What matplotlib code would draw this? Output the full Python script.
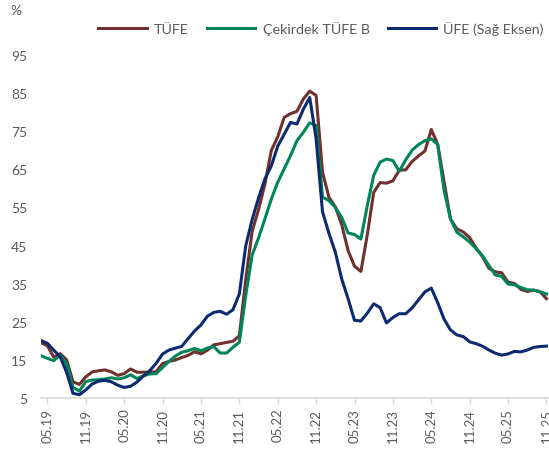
import matplotlib
matplotlib.use("Agg")
import matplotlib.pyplot as plt

# ---------------------------------------------------------------------------
# DATA  (annual % change, monthly, 04.2019 - 11.2025)
# ---------------------------------------------------------------------------

FIRST_YEAR, FIRST_MONTH = 2019, 4

TUFE = [
    19.50, 18.71, 15.72, 16.65, 15.01, 9.26, 8.55, 10.56, 11.84,
    12.15, 12.37, 11.86, 10.94, 11.39, 12.62, 11.76, 11.77, 11.75, 11.89, 14.03, 14.60,
    14.97, 15.61, 16.19, 17.14, 16.59, 17.53, 18.95, 19.25, 19.58, 19.89, 21.31, 36.08,
    48.69, 54.44, 61.14, 69.97, 73.50, 78.62, 79.60, 80.21, 83.45, 85.51, 84.39, 64.27,
    57.68, 55.18, 50.51, 43.68, 39.59, 38.21, 47.83, 58.94, 61.53, 61.36, 61.98, 64.77,
    64.86, 67.07, 68.50, 69.80, 75.45, 71.60, 61.78, 51.97, 49.38, 48.58, 47.09, 44.38,
    42.12, 39.05, 38.10, 37.86, 35.41, 35.05, 33.52, 32.95, 33.29, 32.87, 31.07,
]

CEKIRDEK_B = [
    16.1, 15.4, 14.8, 16.3, 14.0, 7.8, 6.8, 9.3, 9.7,
    9.8, 10.0, 10.3, 10.0, 10.3, 11.1, 10.1, 10.8, 11.3, 11.4, 13.0, 14.6,
    16.0, 17.0, 17.4, 18.0, 17.4, 18.1, 18.5, 16.8, 16.8, 18.3, 19.6, 31.9,
    42.5, 47.0, 52.0, 57.2, 61.6, 65.1, 68.6, 72.5, 74.7, 77.2, 76.5, 57.7,
    56.8, 55.0, 52.4, 48.3, 47.9, 46.7, 55.5, 63.4, 66.9, 67.7, 67.3, 64.5,
    67.5, 70.0, 71.5, 72.5, 73.0, 71.5, 59.5, 52.0, 48.5, 47.3, 45.9, 44.2,
    42.3, 39.8, 37.3, 36.9, 34.9, 34.7, 34.0, 33.4, 33.3, 32.9, 32.3,
]

# right axis
UFE = [
    30.12, 28.71, 25.04, 21.66, 13.45, 2.45, 1.70, 4.26, 7.36,
    8.84, 9.26, 8.50, 6.71, 5.53, 6.17, 8.33, 11.53, 14.33, 18.20, 23.11, 25.15,
    26.16, 27.09, 31.20, 35.17, 38.33, 42.89, 44.92, 45.52, 43.96, 46.31, 54.62, 79.89,
    93.53, 105.01, 114.97, 121.82, 132.16, 138.31, 144.61, 143.75, 151.50, 157.69, 136.02, 97.72,
    86.46, 76.61, 62.43, 52.11, 40.76, 40.42, 44.50, 49.41, 47.44, 39.39, 42.25, 44.22,
    44.20, 47.29, 51.47, 55.66, 57.68, 50.09, 41.37, 35.75, 33.09, 32.24, 29.47, 28.52,
    27.20, 25.21, 23.50, 22.50, 23.13, 24.45, 24.19, 25.16, 26.59, 27.00, 27.23,
]

TICK_LABELS = [
    "05.19", "11.19", "05.20", "11.20", "05.21", "11.21", "05.22",
    "11.22", "05.23", "11.23", "05.24", "11.24", "05.25", "11.25",
]

SERIES_NAMES = ["TÜFE", "Çekirdek TÜFE B", "ÜFE (Sağ Eksen)"]
COLORS = ["#70302c", "#00845a", "#0b2a6f"]

TEXT_GREY = "#595959"
AXIS_GREY = "#d9d9d9"
FONT = "Lato"


def label_to_month(label):
    mm, yy = label.split(".")
    return (2000 + int(yy) - FIRST_YEAR) * 12 + int(mm) - FIRST_MONTH


def main():
    plt.rcParams["font.family"] = [FONT, "DejaVu Sans"]

    fig = plt.figure(figsize=(5.49, 4.52), dpi=100)
    ax = fig.add_axes([41 / 549, 1 - 399 / 452, 508 / 549, 343 / 452])
    ax2 = ax.twinx()

    x = list(range(len(TUFE)))
    lw = 2.2
    l1, = ax.plot(x, TUFE, color=COLORS[0], lw=lw, solid_joinstyle="round")
    l2, = ax.plot(x, CEKIRDEK_B, color=COLORS[1], lw=lw, solid_joinstyle="round")
    l3, = ax2.plot(x, UFE, color=COLORS[2], lw=lw, solid_joinstyle="round")

    ax.set_xlim(0, 79.4)
    ax.set_ylim(5, 95)
    ax2.set_ylim(0, 180)

    ax.set_yticks(range(5, 96, 10))
    ax.set_xticks([label_to_month(t) for t in TICK_LABELS])
    ax.set_xticklabels(TICK_LABELS, rotation=90)

    ax.tick_params(axis="y", length=0, pad=10, labelsize=10, labelcolor=TEXT_GREY)
    ax.tick_params(axis="x", length=4, width=1, color=AXIS_GREY, pad=3,
                   labelsize=9.5, labelcolor=TEXT_GREY)

    for side in ["left", "right", "top"]:
        ax.spines[side].set_visible(False)
    ax.spines["bottom"].set_color(AXIS_GREY)
    ax.spines["bottom"].set_linewidth(1.2)

    # right axis sits outside the cropped picture
    for sp in ax2.spines.values():
        sp.set_visible(False)
    ax2.set_yticks([])

    fig.text(10 / 549, 1 - 11 / 452, "%", color=TEXT_GREY, fontsize=10,
             ha="left", va="center")

    fig.legend([l1, l2, l3], SERIES_NAMES, loc="center",
               bbox_to_anchor=(321 / 549, 1 - 29 / 452), ncol=3, frameon=False,
               fontsize=10.3, handlelength=3.4, handletextpad=0.5,
               columnspacing=1.25, labelcolor=TEXT_GREY)

    fig.savefig("out.png", dpi=100)


if __name__ == "__main__":
    main()
